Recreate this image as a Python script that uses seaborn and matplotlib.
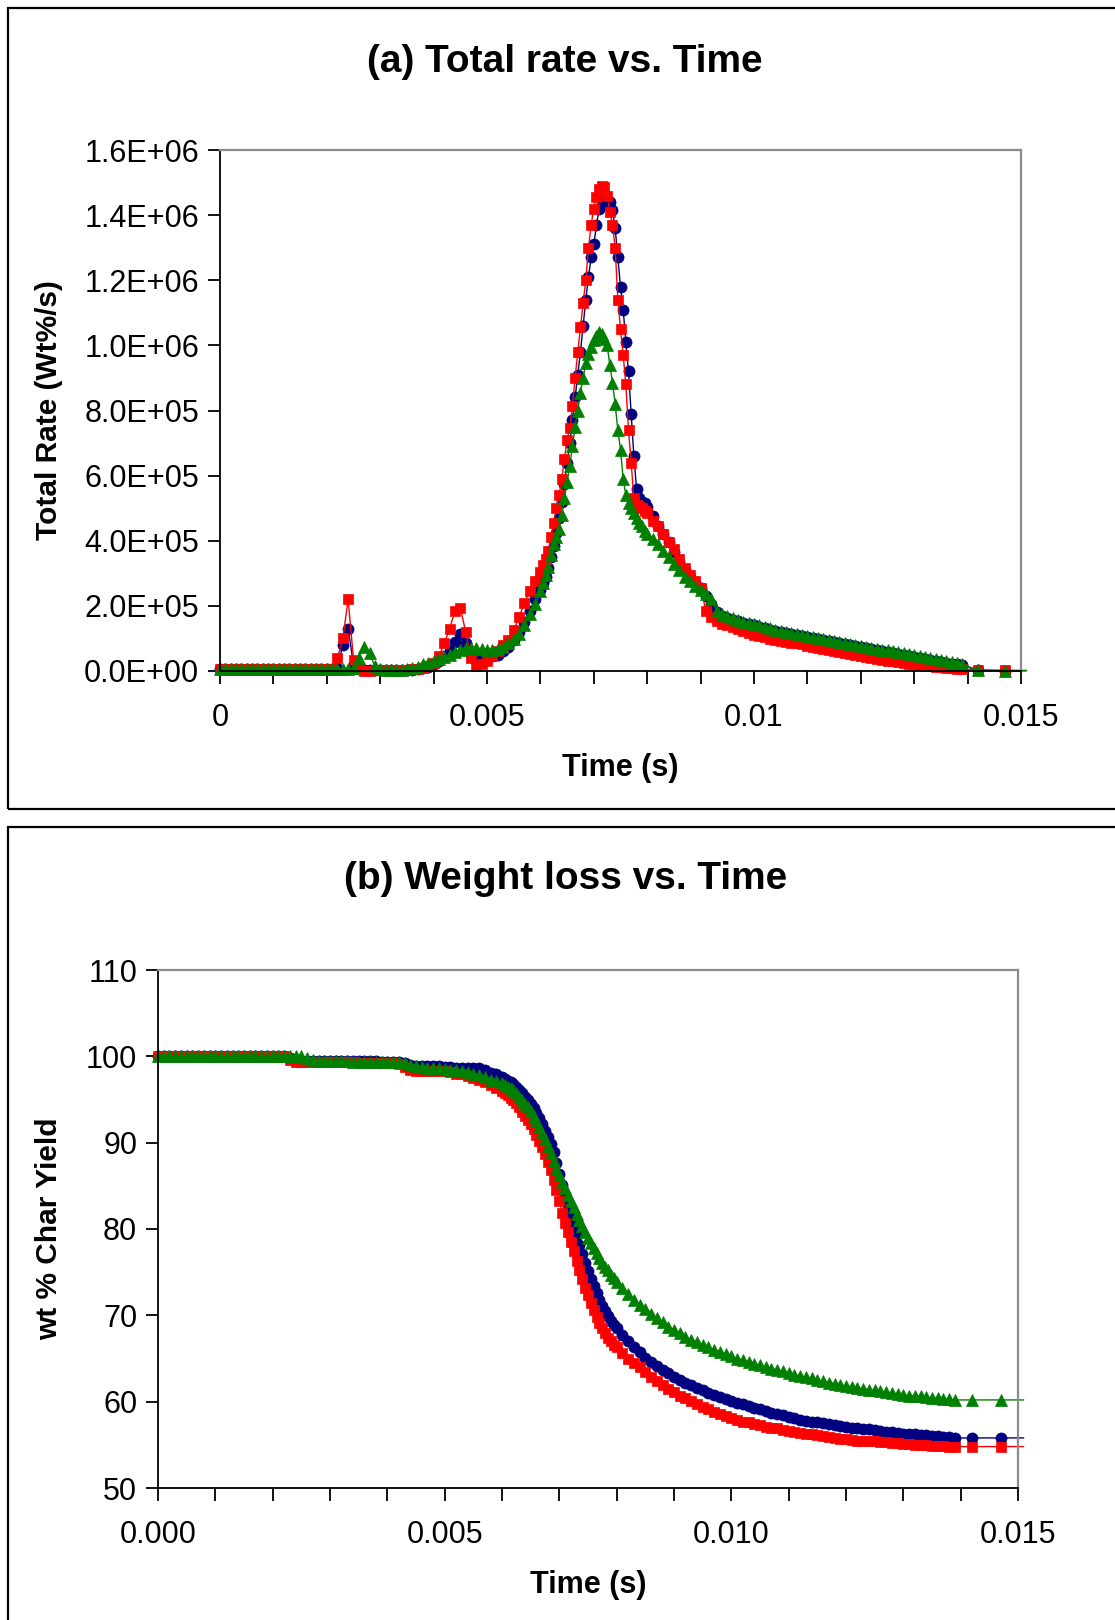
import numpy as np
import matplotlib
matplotlib.use("Agg")
import matplotlib.pyplot as plt
from matplotlib.patches import Rectangle
from matplotlib.ticker import MultipleLocator, FixedLocator, FuncFormatter
import seaborn as sns

# ---------------------------------------------------------------- sampling times (ms)
# 0.1 ms steps, refined to 0.05 ms around the main reaction, then a few late samples
t_ms = np.concatenate([
    np.arange(60) * 0.1,          # 0.0 .. 5.9
    6.0 + np.arange(40) * 0.05,   # 6.00 .. 7.95
    8.0 + np.arange(60) * 0.1,    # 8.0 .. 13.9
    [14.2, 14.7, 15.1],
])
time_s = t_ms / 1000.0

# ---------------------------------------------------------------- (a) total rate, units of 1e5 Wt%/s
rate_blue = [
    0.05, 0.05, 0.05, 0.05, 0.05, 0.05, 0.05, 0.05, 0.05, 0.05,
    0.05, 0.05, 0.05, 0.05, 0.05, 0.05, 0.05, 0.05, 0.05, 0.05,
    0.05, 0.05, 0.1, 0.8, 1.3, 0.2, 0.05, 0.03, 0.03, 0.03,
    0.03, 0.03, 0.03, 0.03, 0.03, 0.03, 0.04, 0.05, 0.08, 0.12,
    0.2, 0.3, 0.45, 0.6, 0.9, 1.15, 0.85, 0.5, 0.4, 0.38,
    0.4, 0.45, 0.5, 0.6, 0.75, 0.95, 1.2, 1.5, 1.85, 2.2,
    2.5, 2.7, 2.9, 3.15, 3.5, 3.85, 4.25, 4.7, 5.2, 5.75,
    6.4, 7.0, 7.7, 8.4, 9.1, 9.8, 10.6, 11.4, 12.1, 12.7,
    13.1, 13.7, 14.2, 14.3, 14.45, 14.5, 14.4, 14.15, 13.6, 12.7,
    11.8, 11.1, 10.1, 9.2, 7.9, 6.6, 5.6, 5.3, 5.2, 5.15,
    5.05, 4.75, 4.45, 4.2, 3.95, 3.65, 3.35, 3.1, 2.9, 2.7,
    2.55, 2.3, 2.05, 1.8, 1.7, 1.63, 1.58, 1.53, 1.48, 1.44,
    1.4, 1.36, 1.31, 1.27, 1.23, 1.2, 1.16, 1.13, 1.1, 1.06,
    1.03, 1.0, 0.97, 0.94, 0.91, 0.88, 0.85, 0.82, 0.79, 0.77,
    0.74, 0.71, 0.68, 0.65, 0.62, 0.59, 0.56, 0.53, 0.5, 0.47,
    0.44, 0.41, 0.38, 0.35, 0.32, 0.29, 0.26, 0.23, 0.2, 0.17,
    0.02, 0.01, 0.01,
]
rate_red = [
    0.05, 0.05, 0.05, 0.05, 0.05, 0.05, 0.05, 0.05, 0.05, 0.05,
    0.05, 0.05, 0.05, 0.05, 0.05, 0.05, 0.05, 0.05, 0.05, 0.05,
    0.05, 0.05, 0.4, 1.0, 2.2, 0.35, 0.05, 0.0, 0.0, 0.02,
    0.03, 0.03, 0.03, 0.03, 0.03, 0.03, 0.05, 0.06, 0.1, 0.15,
    0.25, 0.45, 0.85, 1.3, 1.85, 1.95, 1.2, 0.4, 0.15, 0.2,
    0.3, 0.45, 0.6, 0.8, 0.95, 1.25, 1.65, 2.1, 2.45, 2.75,
    3.05, 3.25, 3.45, 3.7, 4.1, 4.55, 5.0, 5.4, 5.9, 6.5,
    7.1, 7.45, 8.15, 9.0, 9.8, 10.55, 11.3, 12.0, 13.0, 13.7,
    14.2, 14.55, 14.8, 14.9, 14.85, 14.6, 14.1, 13.7, 13.0, 11.4,
    10.5, 9.7, 8.8, 7.4, 6.4, 5.3, 5.1, 5.05, 5.0, 4.9,
    4.85, 4.6, 4.45, 4.2, 3.95, 3.75, 3.45, 3.15, 2.95, 2.75,
    2.55, 1.85, 1.65, 1.55, 1.45, 1.4, 1.35, 1.3, 1.22, 1.18,
    1.12, 1.07, 1.03, 0.99, 0.95, 0.93, 0.9, 0.87, 0.85, 0.82,
    0.78, 0.74, 0.71, 0.68, 0.65, 0.62, 0.58, 0.55, 0.52, 0.49,
    0.46, 0.43, 0.4, 0.37, 0.35, 0.32, 0.3, 0.28, 0.25, 0.22,
    0.2, 0.18, 0.16, 0.14, 0.12, 0.11, 0.1, 0.08, 0.06, 0.05,
    0.03, 0.02, 0.02,
]
rate_green = [
    0.05, 0.05, 0.05, 0.05, 0.05, 0.05, 0.05, 0.05, 0.05, 0.05,
    0.05, 0.05, 0.05, 0.05, 0.05, 0.05, 0.05, 0.05, 0.05, 0.05,
    0.05, 0.05, 0.05, 0.05, 0.05, 0.1, 0.4, 0.75, 0.55, 0.15,
    0.05, 0.04, 0.04, 0.04, 0.04, 0.05, 0.08, 0.12, 0.2, 0.25,
    0.3, 0.36, 0.42, 0.5, 0.58, 0.65, 0.72, 0.72, 0.7, 0.68,
    0.66, 0.66, 0.68, 0.75, 0.85, 0.98, 1.15, 1.4, 1.75, 2.05,
    2.45, 2.7, 2.95, 3.2, 3.55, 3.9, 4.1, 4.35, 4.8, 5.3,
    5.8, 6.3, 6.9, 7.5, 8.0, 8.55, 9.0, 9.45, 9.75, 9.95,
    10.15, 10.3, 10.4, 10.35, 10.2, 10.0, 9.4, 8.85, 8.2, 7.4,
    6.8, 5.9, 5.4, 5.15, 5.0, 4.85, 4.7, 4.55, 4.45, 4.3,
    4.2, 4.05, 3.9, 3.7, 3.5, 3.3, 3.1, 2.9, 2.75, 2.6,
    2.5, 2.35, 2.2, 1.85, 1.75, 1.68, 1.62, 1.57, 1.52, 1.48,
    1.44, 1.4, 1.35, 1.31, 1.27, 1.24, 1.2, 1.17, 1.13, 1.1,
    1.07, 1.04, 1.01, 0.98, 0.95, 0.92, 0.89, 0.86, 0.83, 0.81,
    0.78, 0.75, 0.72, 0.69, 0.66, 0.63, 0.6, 0.57, 0.54, 0.51,
    0.48, 0.45, 0.42, 0.39, 0.36, 0.33, 0.3, 0.27, 0.24, 0.21,
    0.02, 0.01, 0.01,
]

# ---------------------------------------------------------------- (b) char yield, wt %
yield_blue = [
    100.0, 100.0, 100.0, 100.0, 100.0, 100.0, 100.0, 100.0, 100.0, 100.0,
    100.0, 100.0, 100.0, 100.0, 100.0, 100.0, 100.0, 100.0, 100.0, 100.0,
    100.0, 100.0, 100.0, 99.8, 99.6, 99.5, 99.5, 99.5, 99.5, 99.5,
    99.5, 99.5, 99.5, 99.5, 99.5, 99.5, 99.5, 99.5, 99.45, 99.4,
    99.4, 99.4, 99.4, 99.2, 99.0, 98.9, 98.9, 98.9, 98.9, 98.9,
    98.8, 98.8, 98.7, 98.65, 98.6, 98.6, 98.6, 98.4, 98.1, 97.9,
    97.6, 97.4, 97.2, 97.0, 96.8, 96.5, 96.1, 95.7, 95.3, 94.9,
    94.5, 94.0, 93.4, 92.8, 92.2, 91.4, 90.6, 89.8, 88.9, 87.7,
    86.4, 85.1, 83.9, 82.7, 81.5, 80.4, 79.3, 78.2, 77.1, 76.1,
    75.1, 74.2, 73.4, 72.6, 71.8, 71.1, 70.5, 69.9, 69.4, 68.9,
    68.5, 67.7, 67.0, 66.3, 65.7, 65.1, 64.6, 64.1, 63.7, 63.3,
    62.9, 62.5, 62.2, 61.9, 61.6, 61.3, 61.0, 60.8, 60.5, 60.3,
    60.1, 59.9, 59.7, 59.5, 59.3, 59.1, 58.9, 58.7, 58.6, 58.4,
    58.2, 58.1, 57.9, 57.8, 57.7, 57.6, 57.5, 57.4, 57.3, 57.2,
    57.1, 57.0, 56.9, 56.8, 56.8, 56.7, 56.6, 56.5, 56.5, 56.4,
    56.3, 56.3, 56.2, 56.1, 56.1, 56.0, 56.0, 55.9, 55.9, 55.8,
    55.8, 55.8, 55.8,
]
yield_red = [
    100.0, 100.0, 100.0, 100.0, 100.0, 100.0, 100.0, 100.0, 100.0, 100.0,
    100.0, 100.0, 100.0, 100.0, 100.0, 100.0, 100.0, 100.0, 100.0, 100.0,
    100.0, 100.0, 100.0, 99.6, 99.3, 99.3, 99.3, 99.3, 99.3, 99.3,
    99.3, 99.3, 99.3, 99.3, 99.3, 99.25, 99.2, 99.2, 99.2, 99.2,
    99.2, 99.2, 99.1, 98.8, 98.4, 98.3, 98.3, 98.3, 98.3, 98.3,
    98.3, 98.2, 98.0, 97.9, 97.7, 97.5, 97.3, 97.0, 96.7, 96.3,
    96.0, 95.7, 95.5, 95.2, 95.0, 94.6, 94.1, 93.6, 93.1, 92.6,
    92.2, 91.6, 90.9, 90.2, 89.5, 88.7, 87.8, 86.8, 85.7, 84.5,
    83.2, 81.9, 80.7, 79.6, 78.5, 77.4, 76.3, 75.2, 74.2, 73.2,
    72.3, 71.4, 70.6, 69.8, 69.1, 68.5, 67.9, 67.4, 67.0, 66.6,
    66.3, 65.6, 65.0, 64.5, 64.0, 63.4, 62.9, 62.4, 61.9, 61.5,
    61.1, 60.7, 60.4, 60.1, 59.7, 59.4, 59.1, 58.8, 58.6, 58.3,
    58.1, 57.9, 57.7, 57.6, 57.4, 57.3, 57.1, 57.0, 56.9, 56.7,
    56.6, 56.5, 56.4, 56.3, 56.2, 56.1, 56.0, 55.9, 55.8, 55.7,
    55.7, 55.6, 55.5, 55.5, 55.4, 55.4, 55.3, 55.3, 55.2, 55.2,
    55.1, 55.1, 55.0, 55.0, 55.0, 54.9, 54.9, 54.9, 54.8, 54.8,
    54.8, 54.8, 54.8,
]
yield_green = [
    100.0, 100.0, 100.0, 100.0, 100.0, 100.0, 100.0, 100.0, 100.0, 100.0,
    100.0, 100.0, 100.0, 100.0, 100.0, 100.0, 100.0, 100.0, 100.0, 100.0,
    100.0, 100.0, 100.0, 100.0, 100.0, 100.0, 99.8, 99.6, 99.5, 99.5,
    99.5, 99.5, 99.5, 99.45, 99.4, 99.4, 99.4, 99.4, 99.4, 99.4,
    99.4, 99.35, 99.3, 99.2, 99.0, 98.9, 98.8, 98.7, 98.6, 98.6,
    98.5, 98.4, 98.4, 98.3, 98.2, 98.0, 97.8, 97.6, 97.3, 97.1,
    96.9, 96.7, 96.5, 96.3, 96.1, 95.7, 95.3, 94.9, 94.5, 94.1,
    93.7, 93.1, 92.5, 91.8, 91.1, 90.4, 89.6, 88.8, 87.9, 87.0,
    86.2, 85.4, 84.7, 83.9, 83.2, 82.5, 81.7, 81.0, 80.3, 79.6,
    79.0, 78.4, 77.8, 77.2, 76.6, 76.1, 75.6, 75.2, 74.7, 74.3,
    73.9, 73.2, 72.5, 71.8, 71.2, 70.7, 70.2, 69.7, 69.2, 68.7,
    68.3, 67.9, 67.5, 67.2, 66.9, 66.6, 66.3, 66.0, 65.8, 65.5,
    65.3, 65.0, 64.8, 64.6, 64.4, 64.2, 64.0, 63.8, 63.7, 63.5,
    63.3, 63.1, 63.0, 62.8, 62.7, 62.5, 62.4, 62.2, 62.1, 61.9,
    61.8, 61.7, 61.6, 61.5, 61.4, 61.3, 61.2, 61.1, 61.0, 60.9,
    60.8, 60.7, 60.7, 60.6, 60.5, 60.4, 60.4, 60.3, 60.3, 60.2,
    60.2, 60.2, 60.2,
]

for series in (rate_blue, rate_red, rate_green, yield_blue, yield_red, yield_green):
    assert len(series) == len(time_s), len(series)

# ---------------------------------------------------------------- styling
sns.set_style("white")
plt.rcParams.update({
    "font.family": ["Liberation Sans", "DejaVu Sans"],
    "text.color": "black",
    "axes.labelcolor": "black",
    "xtick.color": "black",
    "ytick.color": "black",
    "xtick.bottom": True,
    "ytick.left": True,
})

NAVY, RED, GREEN = "#000080", "#FF0000", "#008000"
styles = [  # drawing order: blue, red, green on top
    (NAVY, "o", 8.0),
    (RED, "s", 7.5),
    (GREEN, "^", 9.0),
]

W, H = 1115, 1620
fig = plt.figure(figsize=(W / 100, H / 100), dpi=100)
fig.patch.set_facecolor("white")


def px_rect(left, top, right, bottom):
    return [left / W, 1 - bottom / H, (right - left) / W, (bottom - top) / H]


# panel frames
for (l, t, r, b) in [(8, 8, 1125, 809), (8, 827, 1125, 1635)]:
    fig.add_artist(Rectangle((l / W, 1 - b / H), (r - l) / W, (b - t) / H,
                             transform=fig.transFigure, fill=False,
                             edgecolor="black", linewidth=1.6))

ax_a = fig.add_axes(px_rect(220, 150, 1021, 671))
ax_b = fig.add_axes(px_rect(158, 970, 1018, 1488))

n = len(time_s)
mark_idx = list(range(n - 1))  # last sample carries the line only


def draw(ax, values, scale=1.0):
    for vals, (color, marker, ms) in zip(values, styles):
        sns.lineplot(x=time_s, y=np.asarray(vals) * scale, ax=ax,
                     estimator=None, sort=False, color=color,
                     linewidth=1.0, marker=marker, markersize=ms,
                     markeredgecolor=color, markerfacecolor=color,
                     markeredgewidth=0.5, markevery=mark_idx, clip_on=False)


draw(ax_a, [rate_blue, rate_red, rate_green], scale=1e5)
draw(ax_b, [yield_blue, yield_red, yield_green])


def style_axes(ax):
    ax.set_facecolor("white")
    for side in ("top", "right"):
        ax.spines[side].set_color("#8c8c8c")
        ax.spines[side].set_linewidth(1.6)
    for side in ("left", "bottom"):
        ax.spines[side].set_color("black")
        ax.spines[side].set_linewidth(1.3)
    ax.xaxis.set_minor_locator(MultipleLocator(0.001))
    ax.tick_params(axis="both", which="both", direction="out", length=9,
                   width=1.3, color="black", labelcolor="black", labelsize=22,
                   bottom=True, left=True, top=False, right=False)
    ax.tick_params(axis="x", which="both", pad=14)
    ax.tick_params(axis="y", which="both", pad=6)
    ax.tick_params(axis="y", which="minor", length=0)
    ax.set_xlim(0, 0.015)


# panel (a)
style_axes(ax_a)
ax_a.set_ylim(0, 1.6e6)
ax_a.yaxis.set_major_locator(MultipleLocator(2e5))
ax_a.yaxis.set_major_formatter(FuncFormatter(lambda v, p: f"{v:.1E}"))
ax_a.xaxis.set_major_locator(FixedLocator([0, 0.005, 0.01, 0.015]))
ax_a.set_xticklabels(["0", "0.005", "0.01", "0.015"])
ax_a.set_xlabel("Time (s)", fontsize=22, fontweight="bold")
ax_a.set_ylabel("Total Rate (Wt%/s)", fontsize=21.5, fontweight="bold")
ax_a.xaxis.set_label_coords(0.5, -0.158)
ax_a.yaxis.set_label_coords(-0.1965, 0.5)

# panel (b)
style_axes(ax_b)
ax_b.set_ylim(50, 110)
ax_b.yaxis.set_major_locator(MultipleLocator(10))
ax_b.xaxis.set_major_locator(FixedLocator([0, 0.005, 0.010, 0.015]))
ax_b.set_xticklabels(["0.000", "0.005", "0.010", "0.015"])
ax_b.set_xlabel("Time (s)", fontsize=22, fontweight="bold")
ax_b.set_ylabel("wt % Char Yield", fontsize=21.5, fontweight="bold")
ax_b.xaxis.set_label_coords(0.5, -0.159)
ax_b.yaxis.set_label_coords(-0.1105, 0.5)

# panel titles
fig.text(565 / W, 1 - 62 / H, "(a) Total rate vs. Time", ha="center", va="center",
         fontsize=28, fontweight="bold")
fig.text(566 / W, 1 - 879 / H, "(b) Weight loss vs. Time", ha="center", va="center",
         fontsize=28, fontweight="bold")

fig.savefig("out.png", dpi=100, facecolor="white")
